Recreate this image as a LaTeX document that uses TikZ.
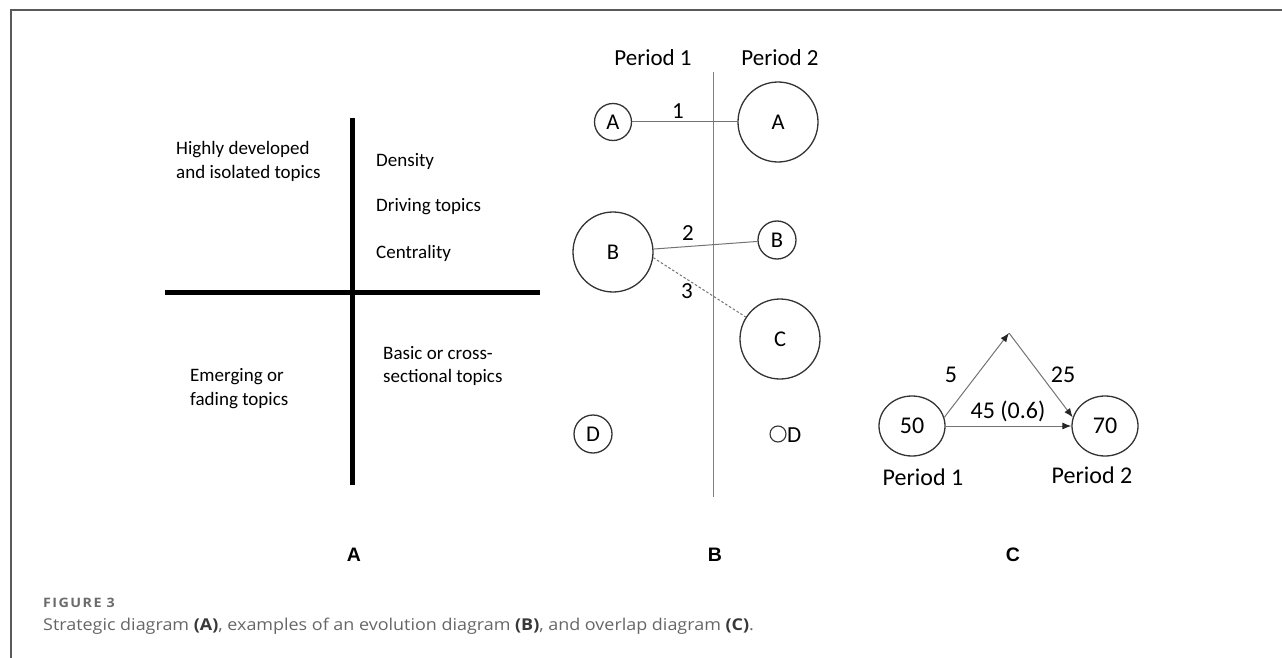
\documentclass[tikz,border=0pt]{standalone}
\usepackage{fontspec}
\usepackage{graphicx}
\setmainfont{Carlito}
\newfontfamily\capfont{Open Sans}
\newfontfamily\figfont[LetterSpace=10]{Open Sans}
\newfontfamily\labfont{Liberation Sans}
\usetikzlibrary{arrows.meta,shapes.geometric}
\begin{document}
\begin{tikzpicture}[x=1pt,y=-1pt,
  axis/.style={line width=5pt},
  quad/.style={anchor=west,align=left,inner sep=0pt,font=\fontsize{19}{23.3}\selectfont},
  bubble/.style={circle,draw=black!80,line width=1.3pt,inner sep=0pt,font=\fontsize{22.5}{26}\selectfont},
  btext/.style={inner sep=0pt,font=\fontsize{23}{27}\selectfont},
  link/.style={draw=black!55,line width=1pt},
  oval/.style={ellipse,draw=black!80,line width=1.3pt,inner sep=0pt,minimum width=66pt,minimum height=60pt,font=\fontsize{24}{28}\selectfont},
  ctext/.style={inner sep=0pt,font=\fontsize{24}{28}\selectfont},
  flow/.style={draw=black!55,line width=1pt,-{Latex[length=9pt,width=7pt,black!85]}},
  panel/.style={inner sep=0pt,font=\labfont\bfseries\fontsize{19.5}{22}\selectfont}
]
\useasboundingbox (0,0) rectangle (1282,658);
% frame
\draw[black!65,line width=1.2pt] (11,658) -- (11,10) -- (1282,10);

% ---------- A : strategic diagram
\coordinate (vtop) at (352,118);
\coordinate (vbot) at (352,485);
\coordinate (hl) at (165,292);
\coordinate (hr) at (540,292);
\draw[axis] (vtop) -- (vbot);
\draw[axis] (hl) -- (hr);
\node[quad] (q1) at (176,161.5) {Highly developed\\and isolated topics};
\node[quad] (q2) at (376,161) {Density};
\node[quad] (q3) at (376,207) {Driving topics};
\node[quad] (q4) at (376,253) {Centrality};
\node[quad] (q5) at (383,366) {Basic or cross-\\sectional topics};
\node[quad] (q6) at (190,388.5) {Emerging or\\fading topics};

% ---------- B : evolution diagram
\coordinate (btop) at (713,72);
\coordinate (bbot) at (713,497);
\draw[black!50,line width=1pt] (btop) -- (bbot);
\node[btext,anchor=base] (p1) at (653,66) {Period 1};
\node[btext,anchor=base] (p2) at (780,66) {Period 2};
\node[bubble,minimum size=37pt] (a1) at (613,122) {A};
\node[bubble,minimum size=80pt] (a2) at (778,122) {A};
\node[bubble,minimum size=80pt] (b1) at (613,252) {B};
\node[bubble,minimum size=38pt] (b2) at (777,240) {B};
\node[bubble,minimum size=80pt] (c2) at (780,339) {C};
\node[bubble,minimum size=38pt] (d1) at (593,434) {D};
\node[bubble,minimum size=16pt,line width=1.1pt] (d2) at (778,434) {};
\node[btext,anchor=west] (d2t) at (787,435) {D};
\draw[link] (a1) -- (a2);
\draw[link] (b1) -- (b2);
\draw[link,dashed,dash pattern=on 2.5pt off 2pt] (b1.-8) -- (c2);
\node[btext] (l1) at (678,111) {1};
\node[btext] (l2) at (688,233) {2};
\node[btext] (l3) at (687,291) {3};

% ---------- C : overlap diagram
\node[oval] (e50) at (912,426) {50};
\node[oval] (e70) at (1105,426) {70};
\coordinate (apex) at (1009,333);
\draw[flow] (e50.15) -- (apex);
\draw[flow] (apex) -- (e70.165);
\draw[flow] (e50.east) -- (e70.west);
\node[ctext] (n5) at (951,375) {5};
\node[ctext] (n25) at (1063,375) {25};
\node[ctext] (n45) at (1008,411) {45 (0.6)};
\node[ctext] (cp1) at (923,477) {Period 1};
\node[ctext] (cp2) at (1092,475) {Period 2};

% ---------- panel labels
\node[panel] (la) at (354,555) {A};
\node[panel] (lb) at (715,555) {B};
\node[panel] (lc) at (1013,555) {C};

% ---------- caption
\node[anchor=base west,inner sep=0pt,text=black!58,font=\figfont\bfseries\fontsize{13}{15}\selectfont] (fig) at (43,607) {\scalebox{1.1}[1]{FIGURE 3}};
\node[anchor=base west,inner sep=0pt,text=black!60,font=\capfont\fontsize{16.3}{19}\selectfont] (cap) at (43,630)
  {\scalebox{1.1}[1]{Strategic diagram \textcolor{black!78}{\textbf{(A)}}, examples of an evolution diagram \textcolor{black!78}{\textbf{(B)}}, and overlap diagram \textcolor{black!78}{\textbf{(C)}}.}};
\end{tikzpicture}
\end{document}
